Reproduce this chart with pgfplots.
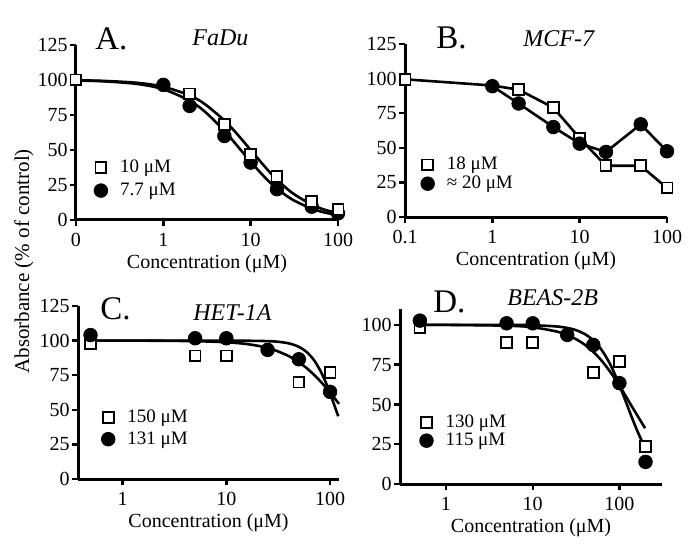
\documentclass[border=0pt]{standalone}
\usepackage{fontspec}
\setmainfont{Liberation Serif}
\usepackage{pgfplots}
\pgfplotsset{compat=1.18}

\pgfplotsset{
  panel/.style={
    scale only axis, anchor=south west, clip=false,
    xminorticks=false, yminorticks=false,
    axis x line*=bottom, axis y line*=left,
    axis line style={line width=1.5pt},
    every tick/.style={black, line width=1.2pt},
    tick align=outside, major tick length=3pt,
    tick label style={font=\rmfamily\fontsize{10}{11}\selectfont},
    yticklabel style={inner xsep=1pt},
    /pgf/number format/assume math mode=true,
    ymin=0, ytick={0,25,...,125}, yticklabels={0,25,50,75,100,125},
    xlabel={Concentration (μM)},
    xlabel style={font=\fontsize{10}{12}\selectfont, at={(axis description cs:0.5,0)}, anchor=base, yshift=-24pt},
    legend style={draw=none, fill=none, inner sep=0pt, font=\fontsize{9.5}{11}\selectfont,
      nodes={inner ysep=0pt, inner xsep=2.5pt, text height=7pt, text depth=2pt},
      anchor=north west},
    legend cell align=left,
  },
  sqmark/.style={only marks, mark=square*, mark size=2.7pt, mark options={fill=white, draw=black, line width=0.9pt},
    legend image code/.code={\path[draw=none, fill=none] (0pt,-3pt) rectangle (13pt,3pt); \draw[##1] plot coordinates {(5.9pt,0pt)};}},
  cimark/.style={only marks, mark=*, mark size=3.4pt, mark options={fill=black, draw=black},
    legend image code/.code={\path[draw=none, fill=none] (0pt,-3pt) rectangle (13pt,3pt); \draw[##1] plot coordinates {(5.9pt,0pt)};}},
  fitline/.style={black, line width=1.3pt, no marks, smooth},
  joinline/.style={black, line width=1.3pt, no marks},
}

\begin{document}
\begin{tikzpicture}
\path[use as bounding box] (0pt,0pt) rectangle (350pt,276pt);

% A. FaDu
\begin{semilogxaxis}[panel, at={(38pt,166pt)}, width=131pt, height=87.5pt,
    xmin=0.1, xmax=100, ymax=125, xtick={0.1,1,10,100}, xticklabels={0,1,10,100},
    legend style={at={(axis description cs:0.0485,0.355)}, row sep=2.65pt}]
\addlegendimage{sqmark}\addlegendentry{10 μM}
\addlegendimage{cimark}\addlegendentry{7.7 μM}
\addplot[fitline, forget plot] coordinates {(0.1,99.75)(0.2,99.4)(0.5,98.0)(1,95.2)(2,89.0)(3,82.7)(5,71.1)(7,61.4)(10,50)(15,37.1)(20,28.9)(30,19.3)(50,11.0)(70,7.4)(100,4.8)};
\addplot[fitline, forget plot] coordinates {(0.1,99.6)(0.2,99.1)(0.5,97.2)(1,93.4)(2,85.2)(3,77.3)(5,63.7)(7,53.1)(10,41.6)(15,29.6)(20,22.4)(30,14.6)(50,8.1)(70,5.4)(100,3.4)};
\addplot[cimark, forget plot] coordinates {(1,96.5)(2,81.5)(5,60)(10,41)(20,22)(50,9.5)(100,4.8)};
\addplot[sqmark, forget plot] coordinates {(0.1,100)(2,90)(5,68)(10,47)(20,31)(50,13)(100,7.6)};
\end{semilogxaxis}

% B. MCF-7
\begin{semilogxaxis}[panel, at={(202.5pt,167.5pt)}, width=131pt, height=86.5pt,
    xmin=0.1, xmax=100, ymax=125, xtick={0.1,1,10,100}, xticklabels={0.1,1,10,100},
    legend style={at={(axis description cs:0.04,0.355)}, row sep=0.35pt}]
\addlegendimage{sqmark}\addlegendentry{18 μM}
\addlegendimage{cimark}\addlegendentry{≈ 20 μM}
\addplot[joinline, forget plot] coordinates {(0.1,99.5)(1,95)(2,92)(5,79)(10,57)(20,37)(50,37)(100,21)};
\addplot[joinline, forget plot] coordinates {(1,94.5)(2,82)(5,65)(10,53)(20,47)(50,67)(100,47.5)};
\addplot[sqmark, forget plot] coordinates {(0.1,99.5)(2,92)(5,79)(10,57)(20,37)(50,37)(100,21)};
\addplot[cimark, forget plot] coordinates {(1,94.5)(2,82)(5,65)(10,53)(20,47)(50,67)(100,47.5)};
\end{semilogxaxis}

% C. HET-1A
\begin{semilogxaxis}[panel, at={(39pt,36.5pt)}, width=130.5pt, height=86.5pt,
    xmin=0.371, xmax=122, ymax=125, xtick={1,10,100}, xticklabels={1,10,100},
    legend style={at={(axis description cs:0.069,0.41)}, row sep=1.85pt}]
\addlegendimage{sqmark}\addlegendentry{150 μM}
\addlegendimage{cimark}\addlegendentry{131 μM}
\addplot[fitline, forget plot] coordinates {(0.49,100)(5,100)(10,99.95)(20,99.8)(30,99.3)(40,98.0)(50,95.5)(60,91.5)(70,85.9)(80,78.7)(90,70.6)(100,61.9)(110,53.3)(120,45.3)};
\addplot[fitline, forget plot] coordinates {(0.49,100)(1,100)(2,99.9)(5,99.6)(10,98.8)(15,97.7)(20,96.3)(25,94.6)(30,92.8)(40,88.8)(50,84.4)(60,79.9)(70,75.3)(80,70.9)(90,66.6)(100,62.5)(110,58.6)(122,54.3)};
\addplot[sqmark, forget plot] coordinates {(0.49,98)(5,89)(10,89)(50,70)(100,77)};
\addplot[cimark, forget plot] coordinates {(0.49,104)(5,101.7)(10,101.7)(25,93.3)(50,86.5)(100,63)};
\end{semilogxaxis}

% D. BEAS-2B
\begin{semilogxaxis}[panel, at={(200pt,34pt)}, width=131pt, height=87.5pt,
    xmin=0.295, xmax=310, ymax=110, ytick={0,25,...,100}, yticklabels={0,25,50,75,100},
    xtick={1,10,100}, xticklabels={1,10,100},
    legend style={at={(axis description cs:0.0546,0.406)}, row sep=0.15pt}]
\addlegendimage{sqmark}\addlegendentry{130 μM}
\addlegendimage{cimark}\addlegendentry{115 μM}
\addplot[fitline, forget plot] coordinates {(0.5,100)(5,100)(10,99.8)(20,98.9)(30,97.1)(40,94.2)(50,90.3)(60,85.5)(70,80.0)(80,74.2)(90,68.1)(100,62.2)(120,51.0)(140,41.5)(160,33.7)(180,27.4)(200,22.5)(210,20.5)};
\addplot[fitline, forget plot] coordinates {(0.5,100)(1,100)(5,99.5)(10,98.5)(20,95.5)(30,91.7)(40,87.5)(50,83.1)(60,78.6)(70,74.1)(80,69.8)(90,65.7)(100,61.8)(120,54.7)(140,48.5)(160,43.3)(180,38.7)(198,35.1)};
\addplot[sqmark, forget plot] coordinates {(0.5,98.5)(5,89)(10,89)(50,70)(100,77)(200,23.5)};
\addplot[cimark, forget plot] coordinates {(0.5,102.7)(5,101)(10,101)(25,93.7)(50,87.4)(100,63.4)(200,13.9)};
\end{semilogxaxis}

% panel letters and cell lines
\node[anchor=base west, inner sep=0pt, font=\fontsize{16.5}{19}\selectfont] at (47.5pt,251pt) {A.};
\node[anchor=base west, inner sep=0pt, font=\fontsize{12}{14}\selectfont\itshape] at (96pt,253.2pt) {FaDu};
\node[anchor=base west, inner sep=0pt, font=\fontsize{16.5}{19}\selectfont] at (218pt,251.9pt) {B.};
\node[anchor=base west, inner sep=0pt, font=\fontsize{12}{14}\selectfont\itshape] at (261.5pt,252.7pt) {MCF-7};
\node[anchor=base west, inner sep=0pt, font=\fontsize{16.5}{19}\selectfont] at (50pt,116.4pt) {C.};
\node[anchor=base west, inner sep=0pt, font=\fontsize{12}{14}\selectfont\itshape] at (96.5pt,116pt) {HET-1A};
\node[anchor=base west, inner sep=0pt, font=\fontsize{16.5}{19}\selectfont] at (216.5pt,119.7pt) {D.};
\node[anchor=base west, inner sep=0pt, font=\fontsize{12}{14}\selectfont\itshape] at (253.5pt,123.4pt) {BEAS-2B};
\node[rotate=90, inner sep=0pt, font=\fontsize{10.5}{12}\selectfont] at (12pt,145.3pt) {Absorbance (\% of control)};
\end{tikzpicture}
\end{document}
